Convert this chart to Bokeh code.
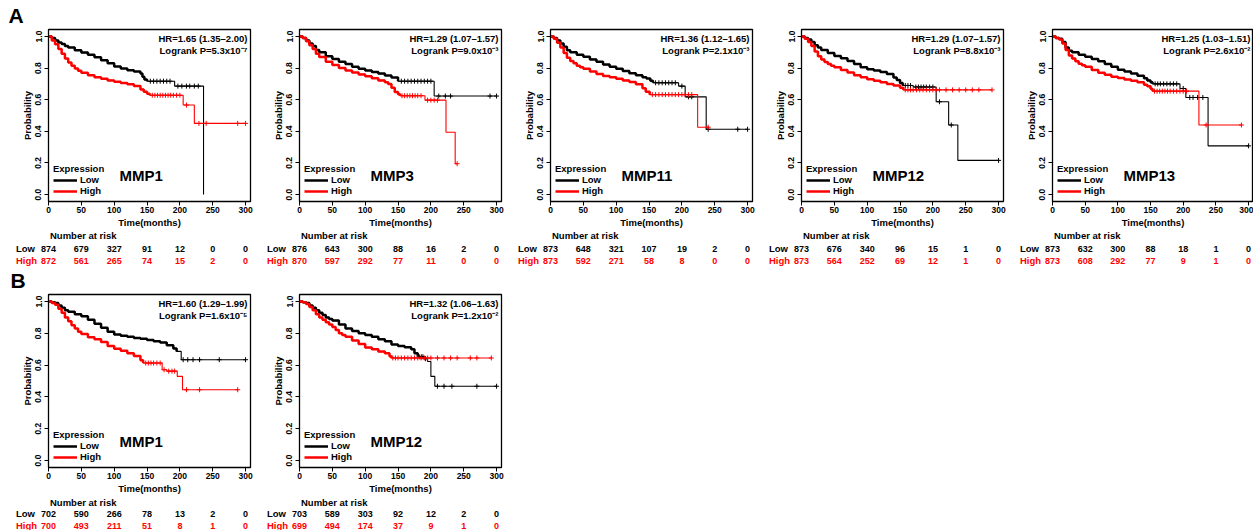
import numpy as np
from bokeh.plotting import figure
from bokeh.models import (Range1d, FixedTicker, Label, Legend, LegendItem,
                          PrintfTickFormatter)
from bokeh.core.properties import value
from bokeh.layouts import column, row
from bokeh.embed import file_html
from bokeh.resources import INLINE

FONT = "Liberation Sans"
BLACK = "#000000"
RED = "#ff0000"

risk_times = [0, 50, 100, 150, 200, 250, 300]
y_ticks = [0.0, 0.2, 0.4, 0.6, 0.8, 1.0]

# ---------------- Panel A ----------------
a_genes = ["MMP1", "MMP3", "MMP11", "MMP12", "MMP13"]
a_hr = ["HR=1.65 (1.35–2.00)", "HR=1.29 (1.07–1.57)", "HR=1.36 (1.12–1.65)",
        "HR=1.29 (1.07–1.57)", "HR=1.25 (1.03–1.51)"]
a_p = ["Logrank P=5.3x10⁻⁷", "Logrank P=9.0x10⁻³", "Logrank P=2.1x10⁻³",
       "Logrank P=8.8x10⁻³", "Logrank P=2.6x10⁻²"]
a_risk_low = [[874, 679, 327, 91, 12, 0, 0], [876, 643, 300, 88, 16, 2, 0],
              [873, 648, 321, 107, 19, 2, 0], [873, 676, 340, 96, 15, 1, 0],
              [873, 632, 300, 88, 18, 1, 0]]
a_risk_high = [[872, 561, 265, 74, 15, 2, 0], [870, 597, 292, 77, 11, 0, 0],
               [873, 592, 271, 58, 8, 0, 0], [873, 564, 252, 69, 12, 1, 0],
               [873, 608, 292, 77, 9, 1, 0]]

# MMP1 (A)
a1_low_t = [0, 5, 10, 15, 20, 25, 30, 40, 50, 60, 70, 80, 90, 100, 110, 120, 130, 140, 143, 146, 150, 192, 236]
a1_low_s = [1.0, 0.99, 0.975, 0.962, 0.952, 0.94, 0.93, 0.912, 0.898, 0.885, 0.868, 0.85, 0.83, 0.81, 0.797, 0.787, 0.778, 0.765, 0.745, 0.727, 0.717, 0.686, 0.0]
a1_low_c = [155, 160, 165, 170, 175, 180, 185, 197, 203, 210, 215, 222, 228]
a1_high_t = [0, 5, 10, 15, 20, 25, 30, 35, 40, 45, 50, 60, 70, 80, 90, 100, 110, 120, 130, 140, 145, 150, 154, 205, 222, 300]
a1_high_s = [1.0, 0.975, 0.95, 0.92, 0.89, 0.86, 0.835, 0.815, 0.797, 0.783, 0.77, 0.755, 0.742, 0.732, 0.722, 0.713, 0.705, 0.697, 0.686, 0.665, 0.65, 0.638, 0.628, 0.566, 0.45, 0.45]
a1_high_c = [158, 162, 166, 170, 174, 178, 182, 186, 190, 195, 200, 210, 229, 240, 288, 300]

# MMP3 (A)
a3_low_t = [0, 5, 10, 15, 20, 25, 30, 40, 50, 60, 70, 80, 90, 100, 110, 120, 130, 140, 150, 205, 300]
a3_low_s = [1.0, 0.99, 0.975, 0.955, 0.94, 0.915, 0.9, 0.875, 0.857, 0.84, 0.825, 0.808, 0.795, 0.785, 0.775, 0.765, 0.753, 0.74, 0.717, 0.623, 0.623]
a3_low_c = [155, 160, 165, 170, 175, 180, 185, 190, 195, 200, 212, 222, 230, 290, 300]
a3_high_t = [0, 5, 10, 15, 20, 25, 30, 40, 50, 60, 70, 80, 90, 100, 110, 120, 130, 135, 140, 145, 150, 153, 191, 223, 237, 240]
a3_high_s = [1.0, 0.99, 0.97, 0.945, 0.92, 0.89, 0.87, 0.84, 0.82, 0.8, 0.785, 0.772, 0.76, 0.748, 0.735, 0.722, 0.71, 0.7, 0.675, 0.648, 0.635, 0.625, 0.597, 0.394, 0.195, 0.195]
a3_high_c = [156, 160, 164, 168, 172, 176, 180, 185, 195, 200, 205, 210, 240]

# MMP11 (A)
a11_low_t = [0, 5, 10, 15, 20, 25, 30, 40, 50, 60, 70, 80, 90, 100, 110, 120, 130, 140, 146, 152, 156, 195, 205, 237, 300]
a11_low_s = [1.0, 0.99, 0.975, 0.955, 0.935, 0.912, 0.9, 0.885, 0.872, 0.855, 0.84, 0.822, 0.808, 0.795, 0.782, 0.768, 0.755, 0.742, 0.734, 0.72, 0.707, 0.686, 0.618, 0.413, 0.413]
a11_low_c = [160, 165, 170, 175, 180, 185, 190, 200, 210, 215, 240, 285, 300]
a11_high_t = [0, 5, 10, 15, 20, 25, 30, 35, 40, 45, 50, 60, 70, 80, 90, 100, 110, 120, 130, 140, 145, 151, 224, 240]
a11_high_s = [1.0, 0.985, 0.96, 0.93, 0.895, 0.865, 0.845, 0.83, 0.815, 0.805, 0.795, 0.778, 0.762, 0.75, 0.742, 0.732, 0.722, 0.712, 0.698, 0.672, 0.65, 0.632, 0.426, 0.426]
a11_high_c = [155, 160, 165, 170, 175, 180, 185, 190, 195, 200, 205, 210, 215, 240]

# MMP12 (A)
a12_low_t = [0, 5, 10, 15, 20, 25, 30, 40, 50, 60, 70, 80, 90, 100, 110, 120, 130, 140, 145, 150, 154, 170, 205, 224, 238, 300]
a12_low_s = [1.0, 0.99, 0.98, 0.965, 0.945, 0.93, 0.915, 0.895, 0.877, 0.862, 0.845, 0.825, 0.805, 0.792, 0.785, 0.775, 0.762, 0.74, 0.725, 0.705, 0.69, 0.68, 0.587, 0.44, 0.216, 0.216]
a12_low_c = [158, 162, 166, 174, 178, 182, 186, 190, 195, 200, 210, 228, 300]
a12_high_t = [0, 5, 10, 15, 20, 25, 30, 35, 40, 45, 50, 60, 70, 80, 90, 100, 110, 120, 130, 140, 150, 155, 290]
a12_high_s = [1.0, 0.985, 0.965, 0.94, 0.905, 0.875, 0.855, 0.838, 0.825, 0.815, 0.805, 0.788, 0.772, 0.755, 0.742, 0.73, 0.72, 0.71, 0.7, 0.69, 0.675, 0.662, 0.662]
a12_high_c = [158, 162, 166, 170, 175, 180, 185, 190, 195, 200, 205, 210, 220, 230, 240, 250, 260, 270, 290]

# MMP13 (A)
a13_low_t = [0, 5, 10, 15, 20, 25, 30, 40, 50, 60, 70, 80, 90, 100, 110, 120, 130, 140, 145, 150, 153, 195, 204, 238, 300]
a13_low_s = [1.0, 0.99, 0.985, 0.965, 0.93, 0.91, 0.9, 0.885, 0.872, 0.858, 0.843, 0.826, 0.808, 0.79, 0.778, 0.766, 0.752, 0.735, 0.722, 0.71, 0.7, 0.671, 0.614, 0.308, 0.308]
a13_low_c = [157, 161, 165, 170, 175, 180, 185, 190, 200, 210, 215, 222, 230, 300]
a13_high_t = [0, 5, 10, 15, 20, 25, 30, 35, 40, 45, 50, 60, 70, 80, 90, 100, 110, 120, 130, 140, 145, 150, 153, 224, 289]
a13_high_s = [1.0, 0.99, 0.98, 0.955, 0.915, 0.88, 0.86, 0.843, 0.828, 0.818, 0.808, 0.788, 0.77, 0.757, 0.745, 0.737, 0.728, 0.72, 0.71, 0.695, 0.685, 0.67, 0.654, 0.44, 0.44]
a13_high_c = [156, 160, 164, 168, 172, 176, 180, 185, 190, 195, 200, 205, 235, 289]

# ---------------- Panel B ----------------
b_genes = ["MMP1", "MMP12"]
b_hr = ["HR=1.60 (1.29–1.99)", "HR=1.32 (1.06–1.63)"]
b_p = ["Logrank P=1.6x10⁻⁵", "Logrank P=1.2x10⁻²"]
b_risk_low = [[702, 590, 266, 78, 13, 2, 0], [703, 589, 303, 92, 12, 2, 0]]
b_risk_high = [[700, 493, 211, 51, 8, 1, 0], [699, 494, 174, 37, 9, 1, 0]]

b1_low_t = [0, 5, 10, 15, 20, 25, 30, 40, 50, 60, 70, 80, 90, 100, 110, 120, 130, 140, 150, 160, 170, 180, 190, 195, 202, 300]
b1_low_s = [1.0, 0.995, 0.99, 0.975, 0.96, 0.945, 0.935, 0.92, 0.907, 0.885, 0.86, 0.835, 0.81, 0.792, 0.785, 0.778, 0.77, 0.765, 0.758, 0.75, 0.742, 0.725, 0.705, 0.686, 0.634, 0.634]
b1_low_c = [205, 212, 220, 230, 260, 300]
b1_high_t = [0, 5, 10, 15, 20, 25, 30, 35, 40, 45, 50, 60, 70, 80, 90, 100, 110, 120, 130, 140, 144, 173, 180, 196, 204, 288]
b1_high_s = [1.0, 0.99, 0.98, 0.955, 0.93, 0.9, 0.875, 0.85, 0.83, 0.81, 0.795, 0.775, 0.762, 0.745, 0.72, 0.703, 0.69, 0.675, 0.658, 0.63, 0.613, 0.571, 0.562, 0.529, 0.445, 0.445]
b1_high_c = [148, 152, 156, 160, 165, 170, 176, 183, 188, 192, 210, 230, 288]

b12_low_t = [0, 5, 10, 15, 20, 25, 30, 35, 40, 45, 50, 60, 70, 80, 90, 100, 110, 120, 130, 140, 150, 160, 170, 175, 180, 190, 195, 200, 206, 300]
b12_low_s = [1.0, 0.995, 0.99, 0.975, 0.96, 0.945, 0.93, 0.915, 0.9, 0.89, 0.88, 0.855, 0.83, 0.815, 0.8, 0.79, 0.778, 0.763, 0.75, 0.73, 0.72, 0.712, 0.7, 0.675, 0.652, 0.64, 0.623, 0.529, 0.467, 0.467]
b12_low_c = [183, 186, 188, 192, 210, 220, 232, 270, 300]
b12_high_t = [0, 5, 10, 15, 20, 25, 30, 35, 40, 45, 50, 55, 60, 65, 70, 80, 90, 100, 110, 120, 130, 137, 140, 292]
b12_high_s = [1.0, 0.995, 0.985, 0.965, 0.945, 0.92, 0.9, 0.885, 0.87, 0.855, 0.84, 0.82, 0.8, 0.79, 0.778, 0.755, 0.732, 0.71, 0.7, 0.685, 0.675, 0.655, 0.645, 0.645]
b12_high_c = [142, 146, 150, 155, 160, 165, 170, 175, 180, 185, 190, 195, 200, 210, 220, 230, 240, 260, 270, 292]

# time until which the curve is densely censored (drawn thicker)
a_dense = [(150, 154), (150, 153), (156, 151), (154, 155), (153, 153)]
b_dense = [(195, 144), (180, 140)]

X_MAX = 307.5
Y_RANGE = (-0.044, 1.044)


def curve(p, t, s, cens, dense_end, color):
    t = np.asarray(t, dtype=float)
    s = np.asarray(s, dtype=float)
    p.step(t, s, mode="after", line_color=color, line_width=1.1)
    k = int(np.searchsorted(t, dense_end, side="right"))
    thick = p.step(t[:k], s[:k], mode="after", line_color=color, line_width=2.5)
    c = np.asarray(cens, dtype=float)
    idx = np.searchsorted(t, c, side="right") - 1
    p.scatter(c, s[idx], marker="cross", size=5, line_color=color, line_width=1)
    return thick


def style_label(obj, size, color=BLACK):
    obj.text_font = FONT
    obj.text_font_size = size
    obj.text_font_style = "bold"
    obj.text_color = color


def blank_fig(width, height, x_range, y_range):
    f = figure(width=width, height=height, x_range=x_range, y_range=y_range,
               x_axis_type=None, y_axis_type=None, output_backend="svg",
               toolbar_location=None, title=None, min_border=0)
    f.outline_line_color = None
    f.grid.visible = False
    return f


def main_panel(gene, hr, pv, low, high, dense, width, left, frame_w, top, frame_h, bottom):
    p = figure(width=width, height=top + frame_h + bottom,
               x_range=Range1d(0, X_MAX), y_range=Range1d(*Y_RANGE),
               output_backend="svg", toolbar_location=None, title=None,
               min_border_left=left, min_border_right=width - left - frame_w,
               min_border_top=top, min_border_bottom=bottom)
    p.grid.visible = False
    p.outline_line_color = BLACK
    p.outline_line_width = 1.3
    p.outline_line_alpha = 1.0

    for ax in (p.xaxis[0], p.yaxis[0]):
        ax.axis_line_color = BLACK
        ax.major_tick_line_color = BLACK
        ax.major_tick_in = 0
        ax.major_tick_out = 4
        ax.minor_tick_line_color = None
        ax.major_label_text_font = FONT
        ax.major_label_text_font_size = "8.5px"
        ax.major_label_text_font_style = "bold"
        ax.major_label_text_color = BLACK
        ax.axis_label_text_font = FONT
        ax.axis_label_text_font_size = "9.5px"
        ax.axis_label_text_font_style = "bold"
        ax.axis_label_text_color = BLACK
    p.xaxis.ticker = FixedTicker(ticks=risk_times)
    p.xaxis.axis_label = "Time(months)"
    p.xaxis.major_label_standoff = 1
    p.xaxis.axis_label_standoff = 1
    p.yaxis.ticker = FixedTicker(ticks=y_ticks)
    p.yaxis.formatter = PrintfTickFormatter(format="%.1f")
    p.yaxis.axis_label = "Probability"
    p.yaxis.major_label_orientation = "vertical"
    p.yaxis.major_label_standoff = 3
    p.yaxis.axis_label_standoff = 0

    r_low = curve(p, *low, dense[0], BLACK)
    r_high = curve(p, *high, dense[1], RED)

    leg = Legend(items=[LegendItem(label="Low", renderers=[r_low]),
                        LegendItem(label="High", renderers=[r_high])],
                 title="Expression", location=(5, 5), orientation="vertical",
                 border_line_alpha=0, background_fill_alpha=0, padding=0, margin=0,
                 spacing=0, label_height=10, glyph_height=10, glyph_width=24,
                 label_standoff=3, title_standoff=0)
    leg.label_text_font = FONT
    leg.label_text_font_size = "9.5px"
    leg.label_text_font_style = "bold"
    leg.label_text_color = BLACK
    leg.title_text_font = FONT
    leg.title_text_font_size = "9.5px"
    leg.title_text_font_style = "bold"
    leg.title_text_color = BLACK
    p.add_layout(leg)

    g = Label(x=71, y=26, x_units="screen", y_units="screen", text=gene,
              text_baseline="middle", text_align="left")
    style_label(g, "15px")
    p.add_layout(g)

    for txt, dy in ((hr, 10), (pv, 22)):
        lb = Label(x=frame_w - 3, y=frame_h - dy, x_units="screen", y_units="screen",
                   text=txt, text_align="right", text_baseline="middle")
        style_label(lb, "9.5px")
        p.add_layout(lb)
    return p


def risk_table(width, height, frame_off, frame_w, risk_low, risk_high, rows_y):
    # same horizontal scale as the panel above; frame spans the whole figure
    scale = frame_w / X_MAX
    x0 = -frame_off / scale
    t = blank_fig(width, height, Range1d(x0, x0 + width / scale), Range1d(height, 0))
    common = dict(text_font=value(FONT), text_font_style="bold", text_baseline="middle")
    t.text(x=[1.5 / scale], y=[rows_y[0]], text=["Number at risk"], text_align="left",
           text_color=BLACK, text_font_size=value("9.5px"), **common)
    lab_x = -32.5 / scale
    for name, vals, yy, col in (("Low", risk_low, rows_y[1], BLACK),
                                ("High", risk_high, rows_y[2], RED)):
        t.text(x=[lab_x], y=[yy], text=[name], text_align="left", text_color=col,
               text_font_size=value("9.5px"), **common)
        t.text(x=risk_times, y=[yy] * len(risk_times), text=[str(v) for v in vals],
               text_align="center", text_color=col, text_font_size=value("9px"), **common)
    return t


def header_fig(letter, width, height, x, cy):
    f = blank_fig(width, height, Range1d(0, width), Range1d(0, height))
    lb = Label(x=x, y=height - cy, x_units="screen", y_units="screen", text=letter,
               text_align="left", text_baseline="middle")
    style_label(lb, "21px")
    f.add_layout(lb)
    return f


a_curves = [
    ((a1_low_t, a1_low_s, a1_low_c), (a1_high_t, a1_high_s, a1_high_c)),
    ((a3_low_t, a3_low_s, a3_low_c), (a3_high_t, a3_high_s, a3_high_c)),
    ((a11_low_t, a11_low_s, a11_low_c), (a11_high_t, a11_high_s, a11_high_c)),
    ((a12_low_t, a12_low_s, a12_low_c), (a12_high_t, a12_high_s, a12_high_c)),
    ((a13_low_t, a13_low_s, a13_low_c), (a13_high_t, a13_high_s, a13_high_c)),
]
b_curves = [
    ((b1_low_t, b1_low_s, b1_low_c), (b1_high_t, b1_high_s, b1_high_c)),
    ((b12_low_t, b12_low_s, b12_low_c), (b12_high_t, b12_high_s, b12_high_c)),
]

FRAME_W = 202


def build_row(letter, letter_x, letter_cy, header_h, genes, hrs, ps, curves, dense,
              r_low, r_high, widths, top, frame_h, bottom, table_h, rows_y):
    mains, tables = [], []
    for i in range(len(genes)):
        w = widths[i]
        left = 48 if i == 0 else 45
        fw = min(FRAME_W, w - left)
        mains.append(main_panel(genes[i], hrs[i], ps[i], curves[i][0], curves[i][1],
                                dense[i], w, left, fw, top, frame_h, bottom))
        tables.append(risk_table(w, table_h, left, fw, r_low[i], r_high[i], rows_y))
    header = header_fig(letter, widths[0], header_h, letter_x, letter_cy)
    return column(header, row(*mains), row(*tables))


row_a = build_row("A", 8, 14.5, 28, a_genes, a_hr, a_p, a_curves, a_dense,
                  a_risk_low, a_risk_high, [254, 251, 251, 251, 246], 1, 173, 28, 36, (5, 18, 30))
row_b = build_row("B", 10, 14, 27, b_genes, b_hr, b_p, b_curves, b_dense,
                  b_risk_low, b_risk_high, [254, 251], 1, 174, 28, 34, (6, 17, 29))

layout = column(row_a, row_b)
open("out.html", "w").write(file_html(layout, INLINE))
